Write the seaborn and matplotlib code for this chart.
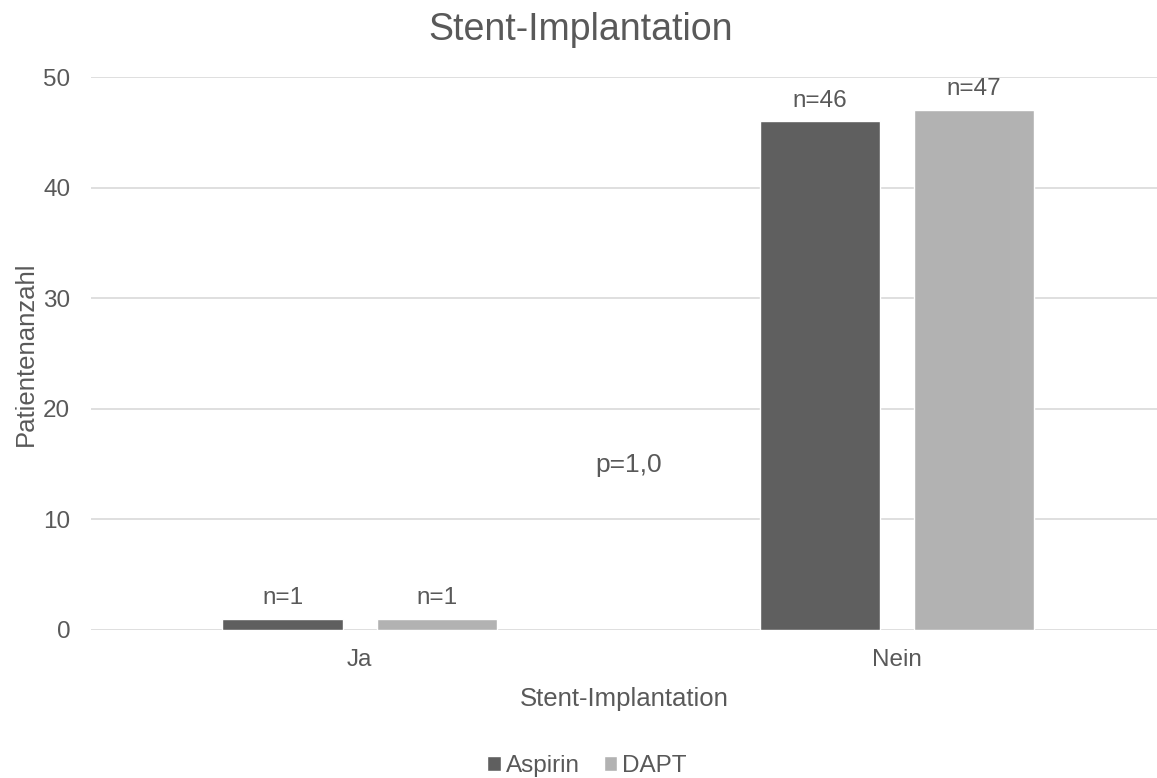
import matplotlib
matplotlib.use("Agg")
import matplotlib.pyplot as plt
import seaborn as sns
import pandas as pd

categories = ["Ja", "Nein"]
groups = ["Aspirin", "DAPT"]
aspirin = [1, 46]
dapt = [1, 47]
p_text = "p=1,0"

df = pd.DataFrame({
    "Stent": categories * 2,
    "Gruppe": [groups[0]] * len(categories) + [groups[1]] * len(categories),
    "n": aspirin + dapt,
})

sns.set_theme(style="white")
plt.rcParams["font.family"] = ["Liberation Sans", "DejaVu Sans"]
text_color = "#595959"

fig = plt.figure(figsize=(11.57, 7.78), dpi=100)
ax = fig.add_axes([91 / 1157, 148 / 778, 1066 / 1157, 553 / 778])

sns.barplot(data=df, x="Stent", y="n", hue="Gruppe", order=categories,
            hue_order=groups, palette=["#5f5f5f", "#b2b2b2"],
            width=0.574, gap=0.22, ax=ax, errorbar=None, legend=True,
            saturation=1)

for container in ax.containers:
    ax.bar_label(container, labels=[f"n={int(v)}" for v in container.datavalues],
                 padding=7, fontsize=17.5, color=text_color)

ax.set_xlim(-0.5, 1.484)
ax.set_ylim(0, 50)
ax.set_yticks(range(0, 51, 10))
ax.yaxis.grid(True, color="#d9d9d9", linewidth=1.2)
ax.set_axisbelow(True)
for s in ax.spines.values():
    s.set_visible(False)
ax.tick_params(axis="both", length=0, labelsize=17.5, colors=text_color)
ax.tick_params(axis="y", pad=15)
ax.tick_params(axis="x", pad=14)

ax.text(0.501, 14.9, p_text, ha="center", va="center", fontsize=19, color=text_color)

ax.set_xlabel("Stent-Implantation", fontsize=18.5, color=text_color, labelpad=11)
ax.set_ylabel("Patientenanzahl", fontsize=18.5, color=text_color, labelpad=4)
fig.text(581 / 1157, 1 - 30 / 778, "Stent-Implantation", ha="center", va="center",
         fontsize=27, color=text_color)

handles, labels = ax.get_legend_handles_labels()
ax.legend_.remove()
fig.legend(handles, labels, loc="center", bbox_to_anchor=(587 / 1157, 1 - 766 / 778),
           ncol=2, frameon=False, fontsize=17.5, labelcolor=text_color,
           handlelength=0.55, handleheight=0.55, handletextpad=0.2, columnspacing=1.0)

fig.savefig("out.png", dpi=100)
